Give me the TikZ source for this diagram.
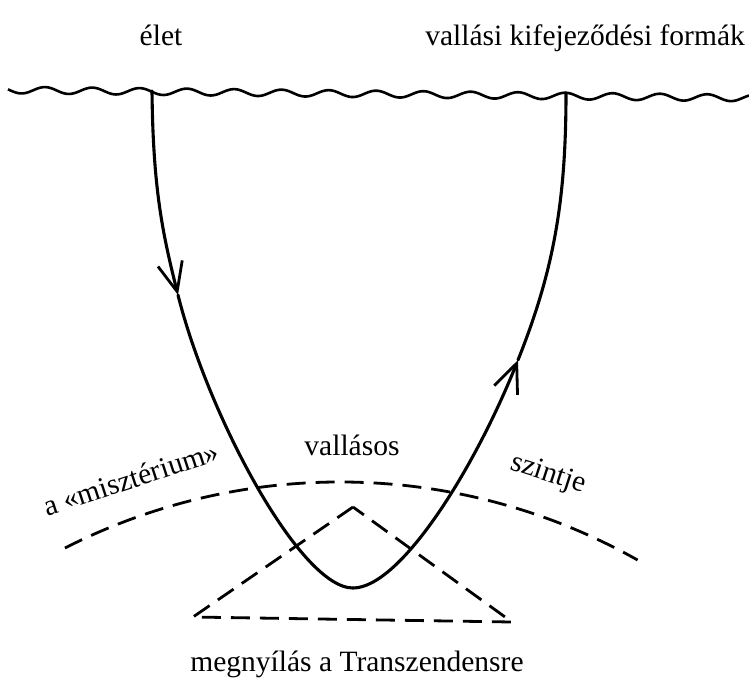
\documentclass[tikz,border=0pt]{standalone}
\usepackage{fontspec}
\setmainfont{Liberation Serif}
\usetikzlibrary{arrows.meta}
\tikzset{barbtip/.tip={Straight Barb[length=29pt,width=25pt,line width=2.8pt]}}
\begin{document}
\begin{tikzpicture}[x=1pt,y=-1pt,
  lbl/.style={font=\fontsize{29.5}{34}\selectfont, inner sep=0pt},
  wave/.style={line width=2.6pt},
  flow/.style={line width=3.1pt, line cap=round, line join=round},
  dsh/.style={line width=2.8pt, dash pattern=on 19pt off 10pt}
]
\useasboundingbox (0,0) rectangle (749,678);
% labels
\node[lbl, anchor=base] (elet) at (161,45) {élet};
\node[lbl, anchor=base east] (formak) at (745,45) {vallási kifejeződési formák};
\node[lbl, anchor=base] (vallasos) at (352,455) {vallásos};
\node[lbl, anchor=base, rotate=18] (miszt) at (134,488) {a «misztérium»};
\node[lbl, anchor=base, rotate=-18] (szintje) at (546,481) {szintje};
\node[lbl, anchor=base] (megny) at (357,671) {megnyílás a Transzendensre};
% wavy surface
\draw[wave] plot[domain=8:749, samples=400, smooth] (\x, {90 + (\x-8)*0.0108 - 3.3*cos(7.611*(\x-45))});
% the U-shaped path
\coordinate (top1) at (152,91);
\coordinate (arrL) at (178,295);
\coordinate (bot) at (353,588);
\coordinate (arrR) at (518,360);
\coordinate (top2) at (566,93);
\draw[flow, -{barbtip}] (top1) .. controls (153,190) and (163,235) .. (arrL);
\draw[flow] (arrL) .. controls (208,415) and (300,588) .. (bot);
\draw[flow, -{barbtip}] (bot) .. controls (400,588) and (474,470) .. (arrR);
\draw[flow] (arrR) .. controls (554,270) and (566,200) .. (top2);
% dashed level arc
\coordinate (arcL) at (65,548);
\draw[dsh] (arcL) arc[start angle=-117, end angle=-60.6, radius=606];
% dashed triangle
\coordinate (apex) at (353,507);
\coordinate (tl) at (193,617);
\coordinate (tr) at (512,622);
\draw[dsh, line join=miter] (apex) -- (tl) -- (tr) -- cycle;
\end{tikzpicture}
\end{document}
